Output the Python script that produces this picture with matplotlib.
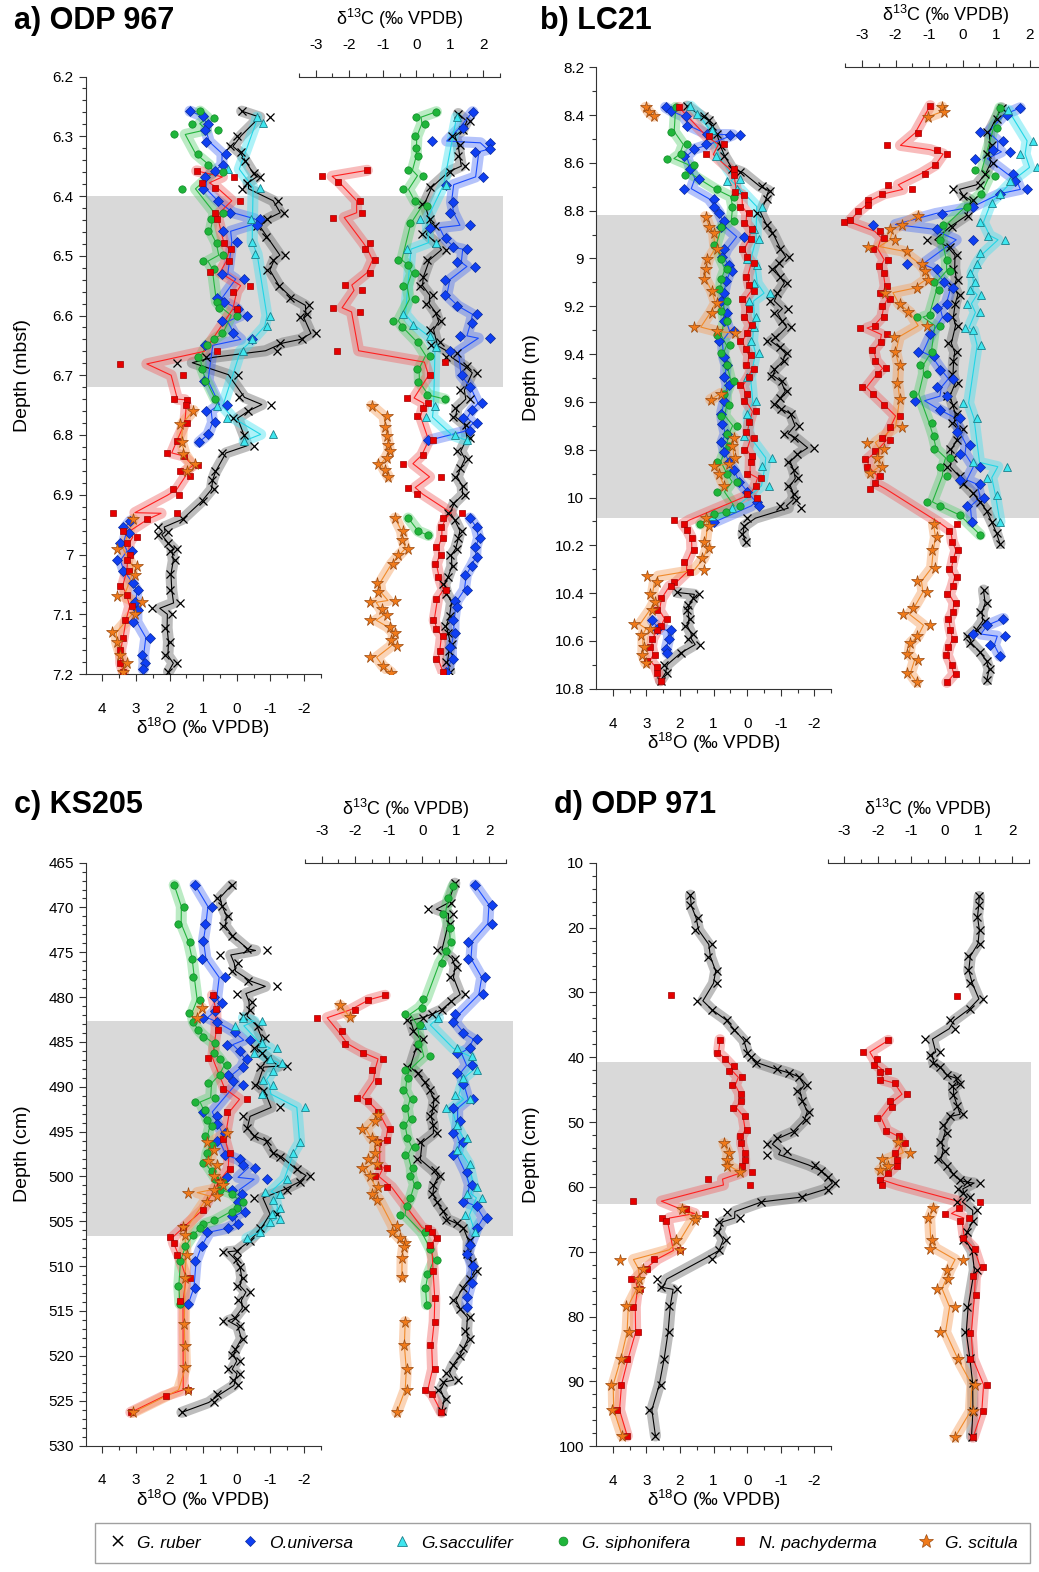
import numpy as np
import matplotlib
matplotlib.use("Agg")
import matplotlib.pyplot as plt
from matplotlib.ticker import FixedLocator, FuncFormatter
from matplotlib.lines import Line2D

plt.rcParams['font.family'] = ['Liberation Sans', 'DejaVu Sans']
plt.rcParams['mathtext.fontset'] = 'custom'
plt.rcParams['mathtext.rm'] = 'Liberation Sans'
plt.rcParams['mathtext.default'] = 'rm'
plt.rcParams['axes.unicode_minus'] = False

NAN = float('nan')
GAP = (NAN, NAN)

# ---------------- DATA (depth, value) ----------------
# Panel a) ODP 967  -- delta18O
A_RUBER_O18 = [(6.258,-0.15),(6.268,-0.99),(6.299,0.00),(6.317,0.20),(6.327,-0.13),(6.342,-0.25),(6.362,-0.50),(6.368,-0.69),(6.378,-0.30),(6.388,-0.15),(6.408,-1.24),(6.428,-1.41),(6.438,-0.89),(6.451,-0.60),(6.469,-0.86),(6.499,-1.44),(6.507,-1.09),(6.524,-0.89),(6.550,-1.27),(6.570,-1.59),(6.583,-2.15),(6.597,-2.08),(6.603,-1.88),(6.630,-2.36),(6.640,-1.93),(6.646,-1.29),(6.659,-1.19),(6.670,0.90),(6.679,1.77),(6.699,-0.05),(6.737,-0.08),(6.749,-1.02),(6.759,-0.33),(6.772,0.10),(6.800,-0.22),(6.818,-0.52),(6.830,0.45),(6.861,0.64),(6.875,0.74),(6.891,0.69),(6.911,0.99),(6.941,1.59),(6.954,2.33),(6.962,2.03),(6.967,2.33),(6.981,2.03),(6.991,1.79),(6.994,1.98),(7.010,1.84),(7.033,1.98),(7.060,1.98),(7.081,1.69),(7.090,2.53),(7.100,1.93),(7.123,2.13),(7.146,1.98),(7.169,2.13),(7.182,1.79),(7.196,2.03)]
A_UNIV_O18 = [(6.258,1.39),(6.266,0.99),(6.279,0.84),(6.289,0.94),(6.309,0.91),(6.329,0.32),(6.348,0.42),(6.358,0.64),(6.368,0.94),(6.388,0.99),(6.408,0.55),(6.428,0.20),(6.438,-0.69),(6.448,-0.60),(6.459,0.42),(6.477,0.00),(6.530,0.45),(6.539,-0.22),(6.570,0.60),(6.577,0.38),(6.589,-0.05),(6.600,-0.30),(6.610,0.45),(6.630,0.12),(6.640,-0.45),(6.650,0.94),(6.709,0.97),(6.749,0.30),(6.759,0.91),(6.779,0.64),(6.799,0.84),(6.812,1.12),GAP,(6.944,3.17),(6.954,3.37),(6.964,3.22),(6.981,3.47),(6.994,3.13),(7.010,3.57),(7.027,3.37),(7.047,3.08),(7.060,2.93),(7.080,3.03),(7.093,2.93),(7.113,3.08),(7.139,2.58),(7.169,2.83),(7.182,2.73),(7.192,2.78)]
A_SACC_O18 = [(6.268,-0.60),(6.278,-0.77),(6.355,0.25),(6.386,-0.69),(6.439,-0.42),(6.477,-0.45),(6.497,-0.55),(6.600,-0.99),(6.618,-0.89),(6.640,-0.45),(6.660,-0.20),(6.752,0.60),(6.771,0.30),(6.799,-1.09),(6.810,-0.22)]
A_SIPH_O18 = [(6.258,1.09),(6.269,0.69),(6.279,1.34),(6.289,0.55),(6.297,1.87),(6.329,1.16),(6.348,0.84),(6.360,0.40),(6.388,1.64),(6.428,0.40),(6.439,0.76),(6.459,0.84),(6.479,0.60),(6.499,0.40),(6.509,1.01),(6.522,0.69),(6.577,0.60),(6.587,0.52),(6.600,0.00),(6.630,0.45),(6.640,0.69),(6.650,0.89),(6.669,1.14),(6.689,1.04),(6.709,0.94),(6.740,0.64)]
A_PACH_O18 = [(6.358,1.19),(6.368,0.08),(6.378,1.04),(6.386,0.64),(6.408,-0.10),(6.428,0.64),(6.438,0.58),(6.479,0.38),(6.489,0.18),(6.509,0.22),(6.528,0.79),(6.550,-0.40),(6.560,0.10),(6.589,0.00),(6.660,0.58),(6.681,3.47),(6.700,1.59),(6.740,1.88),(6.741,1.47),(6.750,1.51),(6.780,1.49),(6.810,1.79),(6.830,2.06),(6.835,1.57),(6.851,1.14),(6.861,1.69),(6.869,1.39),(6.891,1.90),(6.901,1.71),(6.930,3.67),(6.931,1.79),(6.941,2.68),(6.961,3.37),(6.971,2.98),(6.981,3.27),(7.000,3.17),(7.010,3.27),(7.027,3.22),(7.053,3.47),(7.067,3.27),(7.087,3.13),(7.110,3.32),(7.139,3.37),(7.159,3.47),(7.182,3.47),(7.197,3.37)]
A_SCIT_O18 = [(6.759,1.29),(6.781,1.69),(6.812,1.64),(6.832,1.59),(6.849,1.24),(6.861,1.49),GAP,(6.941,3.08),(6.990,3.57),(7.020,2.98),(7.034,3.03),(7.070,3.57),(7.080,2.83),(7.100,3.03),(7.130,3.72),(7.146,3.57),(7.169,3.47),(7.182,3.27),(7.197,3.37)]
# Panel a) -- delta13C
A_RUBER_C13 = [(6.262,1.25),(6.275,1.60),(6.290,1.40),(6.300,1.05),(6.315,1.30),(6.333,1.25),(6.350,1.45),(6.359,1.00),(6.385,0.41),(6.413,0.16),(6.439,0.41),(6.450,0.55),(6.464,0.16),(6.478,0.60),(6.490,0.90),(6.507,0.31),(6.536,0.21),(6.550,0.10),(6.566,0.50),(6.580,0.30),(6.595,0.60),(6.610,0.75),(6.624,0.41),(6.645,0.70),(6.650,0.45),(6.663,1.20),(6.670,0.90),(6.685,1.50),(6.696,1.80),(6.725,1.30),(6.740,1.60),(6.754,1.15),(6.770,1.10),(6.783,1.49),(6.805,1.60),(6.827,1.20),(6.840,1.55),(6.856,1.30),(6.870,1.15),(6.885,1.40),(6.900,1.45),(6.914,1.10),(6.930,0.95),(6.943,1.15),(6.960,1.35),(6.972,1.25),(6.990,1.20),(7.001,1.00),(7.020,1.10),(7.037,0.95),(7.050,0.80),(7.066,0.90),(7.080,1.10),(7.103,1.00),(7.120,0.85),(7.132,0.95),(7.150,1.05),(7.161,0.98),(7.180,0.90),(7.197,1.00)]
A_UNIV_C13 = [(6.259,1.68),(6.286,1.40),(6.308,0.46),(6.311,2.20),(6.322,2.20),(6.326,1.75),(6.368,1.99),(6.381,0.90),(6.410,1.10),(6.428,1.00),(6.449,1.60),(6.453,0.41),(6.471,0.90),(6.486,1.10),(6.489,1.50),(6.511,1.20),(6.518,1.75),(6.540,0.85),(6.566,0.85),(6.584,1.20),(6.598,1.80),(6.613,1.65),(6.634,1.30),(6.638,2.20),(6.660,1.00),(6.700,1.35),(6.720,1.60),(6.747,1.95),(6.758,1.65),(6.772,1.40),(6.780,1.80),(6.794,1.60),(6.809,0.36),GAP,(6.939,1.60),(6.954,1.80),(6.972,1.90),(6.987,1.75),(7.005,1.80),(7.019,1.65),(7.034,1.45),(7.059,1.50),(7.077,1.15),(7.088,1.20),(7.110,1.10),(7.132,1.15),(7.154,1.00),(7.175,1.10),(7.197,0.90)]
A_SACC_C13 = [(6.268,1.20),(6.381,0.90),(6.439,0.10),(6.478,0.60),(6.489,-0.29),(6.598,-0.39),(6.616,-0.09),(6.634,0.40),(6.653,0.60),(6.751,0.55),(6.770,0.30),(6.800,1.15),(6.809,1.50)]
A_SIPH_C13 = [(6.259,0.60),(6.268,0.00),(6.279,0.26),(6.300,-0.04),(6.319,0.00),(6.333,0.06),(6.357,-0.24),(6.366,0.21),(6.389,-0.39),(6.409,-0.04),(6.417,0.31),(6.446,-0.19),(6.507,-0.54),(6.515,-0.24),(6.529,-0.04),(6.551,-0.39),(6.573,-0.04),(6.609,-0.68),(6.620,-0.44),(6.645,0.06),(6.667,0.40),(6.689,0.01),(6.711,0.06),(6.733,0.31),(6.740,0.85),GAP,(6.939,-0.24),(6.961,0.06),(6.968,0.36)]
A_PACH_C13 = [(6.357,-1.46),(6.367,-2.82),(6.377,-2.32),(6.408,-1.68),(6.428,-1.63),(6.436,-2.47),(6.478,-1.38),(6.489,-1.53),(6.507,-1.23),(6.529,-1.38),(6.549,-2.13),(6.558,-1.63),(6.587,-2.49),(6.594,-1.68),(6.659,-2.37),(6.678,0.85),(6.700,0.41),(6.738,-0.29),(6.747,0.36),(6.754,0.21),(6.769,0.01),(6.809,0.50),(6.834,0.21),(6.848,-0.39),(6.870,0.75),(6.888,-0.24),(6.899,0.01),(6.930,1.35),(6.939,0.80),(6.954,0.75),(6.972,0.80),(6.987,0.60),(7.001,0.75),(7.016,0.55),(7.037,0.65),(7.059,0.90),(7.074,0.60),(7.110,0.50),(7.125,0.60),(7.136,0.80),(7.161,0.70),(7.175,0.60),(7.197,0.80)]
A_SCIT_C13 = [(6.751,-1.33),(6.769,-0.88),(6.787,-0.93),(6.801,-0.88),(6.816,-0.83),(6.827,-0.78),(6.838,-0.88),(6.848,-1.13),(6.859,-0.93),(6.870,-0.83),GAP,(6.939,-0.63),(6.961,-0.39),(6.976,-0.44),(6.990,-0.24),(7.001,-0.54),(7.016,-0.68),(7.048,-1.18),(7.063,-1.13),(7.077,-0.64),(7.080,-1.38),(7.091,-1.03),(7.102,-0.88),(7.110,-1.38),(7.121,-0.78),(7.132,-0.64),(7.143,-0.74),(7.153,-0.59),(7.172,-1.38),(7.186,-0.98),(7.198,-0.74)]

# Panel b) LC21 -- delta18O
B_RUBER_O18 = [(8.363,1.79),(8.405,1.29),(8.422,1.14),(8.447,1.04),(8.481,0.89),(8.531,0.79),(8.573,0.69),(8.624,0.45),(8.640,0.20),(8.699,-0.45),(8.716,-0.69),(8.750,-0.60),(8.808,-0.30),(8.859,-0.60),(8.892,-0.74),(8.960,-0.99),(8.993,-1.24),(9.018,-0.94),(9.044,-0.74),(9.077,-0.99),(9.103,-1.19),(9.145,-0.89),(9.178,-0.69),(9.210,-1.20),(9.230,-0.80),(9.262,-1.04),(9.287,-1.29),(9.329,-0.84),(9.346,-0.60),(9.371,-0.99),(9.397,-1.19),(9.430,-1.10),(9.464,-0.79),(9.490,-0.70),(9.514,-1.04),(9.556,-1.19),(9.582,-0.99),(9.607,-0.79),(9.630,-1.00),(9.649,-1.29),(9.699,-1.54),(9.733,-1.09),(9.750,-1.39),(9.792,-1.98),(9.817,-1.49),(9.850,-1.20),(9.884,-1.39),(9.920,-1.50),(9.950,-1.20),(9.985,-1.39),(10.010,-1.45),(10.035,-0.99),(10.044,-1.59),(10.086,0.00),(10.119,0.10),(10.153,0.15),(10.187,0.05),GAP,(10.397,2.08),(10.405,1.44),(10.420,1.60),(10.450,1.75),(10.472,1.79),(10.506,1.69),(10.539,1.84),(10.570,1.60),(10.590,1.75),(10.615,1.39),(10.649,1.98),(10.699,2.48),(10.733,2.38),(10.766,2.58)]
B_UNIV_O18 = [(8.368,2.43),(8.385,2.28),(8.405,1.83),(8.447,1.79),(8.481,1.19),(8.482,0.50),(8.483,0.20),(8.523,1.24),(8.543,1.59),(8.573,1.89),(8.624,1.69),(8.666,1.44),(8.708,1.89),(8.750,0.99),(8.783,0.99),(8.808,0.84),(8.842,0.69),(8.867,0.79),(8.909,0.10),(8.960,0.69),(8.993,0.74),(9.027,0.55),(9.052,0.45),(9.094,0.64),(9.145,0.69),(9.178,0.79),(9.229,0.60),(9.262,0.69),(9.304,0.40),(9.346,0.84),(9.413,0.69),(9.447,0.60),(9.497,0.69),(9.531,0.55),(9.598,0.69),(9.649,0.79),(9.691,0.74),(9.733,0.60),(9.766,0.79),(9.808,0.69),(9.850,0.55),(9.884,0.40),(9.934,0.25),(9.976,0.00),(10.018,-0.30),(10.035,-0.35),(10.103,0.99),GAP,(10.514,2.83),(10.548,2.68),(10.556,2.28),(10.590,2.33),(10.632,2.43),(10.649,2.38)]
B_SACC_O18 = [(8.363,1.69),(8.397,1.49),(8.464,1.04),(8.573,0.94),(8.666,0.20),(8.674,0.60),(8.708,0.30),(8.783,-0.45),(8.876,-0.20),(8.918,-0.35),(9.002,0.00),(9.027,-0.30),(9.103,-0.20),(9.145,-0.69),(9.178,-0.05),(9.245,-0.25),(9.287,-0.20),(9.346,-0.10),(9.397,-0.35),(9.497,0.00),(9.598,-0.25),(9.649,0.00),(9.741,0.10),(9.834,-0.74),(9.867,-0.45),(9.951,-0.64),(10.044,0.45),(10.077,1.04)]
B_SIPH_O18 = [(8.368,2.13),(8.469,2.28),(8.523,1.79),(8.565,1.98),(8.582,2.38),(8.607,1.59),(8.649,1.84),(8.708,0.89),(8.741,0.40),(8.783,0.45),(8.842,0.40),(8.867,0.79),(8.943,0.99),(9.002,0.79),(9.044,0.60),(9.086,0.79),(9.128,0.84),(9.178,0.60),(9.220,0.79),(9.262,0.60),(9.321,0.89),(9.363,0.50),(9.397,0.79),(9.447,0.60),(9.514,0.40),(9.565,0.69),(9.615,0.55),(9.657,0.79),(9.699,0.30),(9.733,0.60),(9.783,0.55),(9.850,0.89),(9.901,0.60),(9.934,0.30),(9.976,0.89),(10.035,0.20),(10.061,0.64),(10.069,0.99),(10.111,1.39)]
B_PACH_O18 = [(8.368,2.03),(8.489,1.14),(8.523,0.69),(8.565,1.24),(8.624,0.40),(8.649,0.40),(8.724,0.35),(8.733,0.10),(8.783,0.20),(8.808,-0.05),(8.850,0.10),(8.876,-0.15),(8.918,-0.10),(8.960,0.15),(8.993,0.00),(9.018,-0.20),(9.077,0.05),(9.111,-0.05),(9.136,-0.20),(9.170,0.15),(9.212,-0.05),(9.245,0.10),(9.279,-0.15),(9.313,0.00),(9.346,0.20),(9.380,0.05),(9.405,-0.10),(9.447,0.05),(9.464,-0.20),(9.497,-0.05),(9.531,0.20),(9.565,0.00),(9.598,0.10),(9.640,-0.25),(9.682,-0.05),(9.724,0.05),(9.750,-0.20),(9.800,0.10),(9.825,-0.15),(9.850,-0.10),(9.901,0.00),(9.918,-0.40),(9.951,-0.25),(9.985,0.00),(10.002,-0.30),(10.094,2.18),(10.111,1.88),(10.136,1.79),(10.170,1.64),(10.220,1.59),(10.271,1.88),(10.313,1.69),(10.355,2.18),(10.371,2.28),(10.422,2.58),(10.472,2.68),(10.506,2.38),(10.539,2.58),(10.556,2.68),(10.590,2.83),(10.624,2.88),(10.657,2.73),(10.682,2.98),(10.708,2.68),(10.733,2.68),(10.766,2.58)]
B_SCIT_O18 = [(8.368,3.02),(8.388,2.93),(8.405,2.78),GAP,(8.825,1.24),(8.867,1.14),(8.892,0.99),(8.960,0.89),(9.002,1.19),(9.044,1.24),(9.086,1.29),(9.136,1.04),(9.187,0.89),(9.229,1.04),(9.287,1.59),(9.304,0.89),(9.313,0.35),GAP,(9.565,0.79),(9.590,1.09),GAP,(9.750,0.40),(9.783,0.45),(9.834,0.35),(9.859,0.55),(9.867,0.99),(9.901,0.84),(9.951,0.69),GAP,(10.086,1.24),(10.119,1.14),(10.187,1.29),(10.212,1.14),(10.254,1.34),(10.304,1.29),(10.329,2.98),(10.355,2.68),(10.405,2.88),(10.439,2.73),(10.472,2.83),(10.531,3.37),(10.548,2.88),(10.573,3.17),(10.624,3.08),(10.657,3.13),(10.691,3.02)]
# Panel b) -- delta13C
B_RUBER_C13 = [(8.370,1.16),(8.416,1.01),(8.471,0.72),(8.527,0.86),(8.563,0.72),(8.600,0.91),(8.646,0.66),(8.692,0.52),(8.711,-0.28),(8.738,0.02),(8.757,0.32),(8.821,0.17),(8.867,-0.33),(8.922,-1.07),(8.950,-0.38),(8.987,-0.18),(9.042,-0.28),(9.088,-0.13),(9.116,-0.33),(9.152,-0.08),(9.189,-0.23),(9.245,-0.33),(9.281,-0.13),(9.355,-0.43),(9.392,-0.18),(9.429,-0.28),(9.484,-0.33),(9.521,-0.13),(9.576,-0.47),(9.613,-0.28),(9.650,-0.18),(9.687,-0.33),(9.714,0.02),(9.761,-0.18),(9.797,-0.38),(9.834,-0.28),(9.871,-0.47),(9.908,-0.08),(9.945,0.02),(9.982,0.32),(10.018,0.52),(10.055,0.72),(10.101,0.86),(10.147,1.01),(10.193,1.11),GAP,(10.387,0.62),(10.442,0.72),(10.479,0.52),(10.516,0.66),(10.552,0.42),(10.580,0.12),(10.608,0.22),(10.645,0.52),(10.682,0.72),(10.718,0.82),(10.764,0.72)]
B_UNIV_C13 = [(8.370,1.71),(8.398,1.31),(8.471,0.52),(8.508,1.21),(8.545,0.91),(8.554,1.41),(8.582,0.37),(8.646,1.51),(8.674,1.56),(8.711,1.91),(8.729,1.11),(8.784,0.32),(8.812,-0.62),(8.858,-2.66),(8.877,-0.77),(8.922,0.32),(9.023,-1.67),(9.042,-0.77),(9.097,-0.57),(9.125,-0.28),(9.190,-0.47),(9.208,-0.77),(9.245,-0.47),(9.318,-0.97),(9.392,-1.32),(9.410,-0.87),(9.466,-0.67),(9.503,-0.28),(9.539,-0.77),(9.576,-0.47),(9.595,-1.42),(9.632,-0.67),(9.669,-0.08),(9.724,-0.18),(9.779,0.22),(9.816,-0.08),(9.871,0.52),(9.926,-0.08),(9.945,0.52),(10.000,0.62),(10.037,0.12),(10.101,0.27),GAP,(10.506,1.21),(10.534,0.72),(10.571,0.32),(10.580,1.26),(10.617,0.82),(10.663,1.11)]
B_SACC_C13 = [(8.380,1.36),(8.508,2.11),(8.563,1.71),(8.619,2.21),(8.674,1.41),(8.729,1.11),(8.766,0.86),(8.849,0.52),(8.904,0.76),(8.922,1.26),(8.977,0.52),(9.023,0.42),(9.060,0.22),(9.097,0.37),(9.134,0.22),(9.152,0.56),(9.189,0.12),(9.226,0.52),(9.290,0.07),(9.300,0.32),(9.364,0.56),(9.604,0.02),(9.669,0.42),(9.853,0.32),(9.871,1.31),(9.917,0.72),(9.991,1.01),(10.101,1.11)]
B_SIPH_C13 = [(8.370,1.11),(8.453,1.01),(8.628,0.37),(8.656,0.96),(8.729,0.56),(8.784,0.12),(8.858,-0.58),(8.922,-0.67),(9.005,-0.47),(9.051,-0.38),(9.097,-0.87),(9.134,-0.72),(9.236,-0.97),(9.245,-1.37),(9.281,-0.67),(9.392,-0.92),(9.447,-1.27),(9.484,-1.07),(9.567,-1.47),(9.687,-0.92),(9.742,-0.87),(9.797,-0.87),(9.834,-0.38),(9.871,-0.67),(9.908,-0.47),(10.018,-1.07),(10.037,-0.67),(10.074,-0.08),(10.156,0.52)]
B_PACH_C13 = [(8.361,-0.97),(8.475,-1.32),(8.527,-2.26),(8.545,-0.77),(8.563,-0.48),(8.609,-0.82),(8.646,-1.12),(8.692,-2.22),(8.711,-1.52),(8.729,-2.42),(8.757,-2.81),(8.775,-2.81),(8.803,-3.11),(8.840,-3.36),(8.849,-3.55),(8.886,-2.46),(8.913,-2.36),(8.959,-2.66),(9.005,-2.22),(9.030,-2.50),(9.060,-2.36),(9.116,-2.26),(9.143,-2.46),(9.171,-2.16),(9.200,-2.40),(9.245,-2.36),(9.281,-2.61),(9.291,-3.06),(9.318,-2.26),(9.350,-2.45),(9.383,-2.71),(9.429,-2.61),(9.460,-2.30),(9.484,-2.51),(9.539,-3.01),(9.567,-2.66),(9.613,-2.36),(9.659,-1.87),(9.705,-2.16),(9.750,-2.40),(9.761,-2.16),(9.807,-2.61),(9.840,-2.90),(9.871,-2.86),(9.908,-2.46),(9.940,-2.60),(9.963,-2.76),(10.110,-0.18),(10.140,-0.40),(10.184,-0.33),(10.220,-0.15),(10.258,-0.28),(10.300,-0.40),(10.331,-0.18),(10.370,-0.30),(10.405,-0.47),(10.440,-0.20),(10.479,-0.28),(10.510,-0.45),(10.552,-0.38),(10.590,-0.25),(10.626,-0.43),(10.660,-0.50),(10.699,-0.33),(10.740,-0.20),(10.773,-0.47)]
B_SCIT_C13 = [(8.366,-0.62),(8.388,-0.57),(8.407,-1.02),GAP,(8.821,-1.32),(8.858,-1.81),(8.877,-2.16),(8.922,-2.01),(8.950,-2.81),(8.969,-1.67),(9.023,-1.22),(9.051,-1.12),(9.088,-1.02),(9.125,-1.37),(9.143,-2.31),(9.189,-1.87),(9.226,-1.62),(9.281,-1.07),(9.327,-2.06),(9.392,-2.01),(9.447,-1.87),(9.521,-1.97),(9.586,-1.87),(9.705,-1.82),(9.770,-2.86),(9.797,-2.36),(9.834,-2.56),(9.871,-2.41),(9.899,-2.76),GAP,(10.110,-0.87),(10.166,-0.77),(10.221,-0.92),(10.295,-0.82),(10.350,-1.37),(10.396,-1.07),(10.461,-1.47),(10.488,-1.77),(10.534,-0.97),(10.580,-1.37),(10.608,-1.57),(10.654,-1.67),(10.681,-1.32),(10.736,-1.67),(10.773,-1.37)]

# Panel c) KS205 -- delta18O
C_RUBER_O18 = [(467.5,0.15),(468.9,0.59),(469.8,0.45),(470.9,0.25),(472.1,0.40),(473.2,0.15),(474.6,-0.30),(474.8,-0.89),(475.3,0.50),(476.2,-0.05),(477.1,0.15),(478.2,-0.35),(478.8,-1.19),(479.6,0.00),(480.5,-0.45),(481.4,-0.40),(482.1,-0.20),(483.2,-0.64),(484.6,-0.84),(485.7,-0.50),(486.2,-0.74),(486.9,-0.89),(487.7,-1.49),(487.8,-0.69),(489.8,-0.55),(490.5,-0.79),(492.3,-1.29),(493.3,-0.20),(494.6,-0.30),(495.5,-0.50),(496.0,-0.89),(497.4,-1.09),(497.8,-1.29),(499.2,-1.79),(499.9,-2.18),(500.6,-1.88),(501.5,-1.49),(502.4,-0.50),(504.2,-1.19),(505.8,-0.69),(507.2,-0.40),(508.3,0.00),(508.4,0.40),(509.2,0.00),(510.1,-0.10),(511.3,-0.20),(512.2,0.00),(512.9,-0.40),(513.8,-0.05),(514.7,-0.25),(515.8,0.05),(516.1,0.40),(516.7,-0.10),(518.1,-0.20),(519.2,0.05),(519.9,0.15),(520.6,-0.10),(521.5,0.25),(522.0,-0.10),(522.7,0.10),(523.3,-0.05),(524.3,0.59),(525.2,0.69),(526.3,1.63)]
C_UNIV_O18 = [(467.5,1.24),(469.9,0.74),(471.8,0.94),(473.7,0.99),(475.7,1.04),(477.8,0.35),(480.0,0.69),(480.7,0.45),(481.6,0.64),(482.3,0.99),(482.8,0.60),(483.9,0.05),(484.8,-0.40),(485.3,0.30),(486.0,-0.10),(486.9,-0.30),(487.8,-0.20),(488.7,0.25),(489.4,0.10),(489.8,-0.20),(492.8,0.99),(493.3,0.60),(494.2,0.60),(495.1,0.35),(496.0,0.60),(497.6,0.35),(498.1,-0.10),(498.7,-0.20),(499.0,-0.55),(500.1,0.30),(500.3,-0.89),(501.5,0.15),(501.9,-0.15),(502.8,-0.05),(504.0,-0.25),(504.4,0.15),(505.3,-0.05),(505.8,0.25),(506.2,0.89),(507.8,1.04),(509.4,1.24),(512.4,1.24),(514.2,1.44)]
C_SACC_O18 = [(482.3,-0.20),(482.7,-0.74),(483.2,0.05),(485.1,-0.74),(485.7,-1.19),(486.2,-0.50),(486.9,-0.99),(487.3,-1.34),(488.2,-1.09),(489.2,-0.79),(489.8,-1.09),(490.8,-0.74),(492.3,-2.03),(496.2,-1.88),(497.4,-1.69),(500.3,-1.49),(501.7,-0.84),(501.9,-1.29),(502.6,-1.09),(503.5,-1.29),(504.2,-1.04),(504.7,-1.29),(505.1,-0.99),(506.2,-0.69),(506.9,-0.30)]
C_SIPH_O18 = [(467.5,1.86),(469.9,1.57),(471.8,1.74),(473.8,1.39),(475.7,1.32),(477.8,1.29),(480.3,1.09),(481.8,1.41),(482.8,1.29),(483.7,1.14),(484.4,0.99),(485.1,0.64),(486.2,0.69),(486.9,0.50),(487.6,0.30),(488.7,0.50),(489.6,0.84),(491.2,0.64),(491.7,1.24),(492.6,0.94),(493.7,0.89),(494.4,0.74),(495.5,0.94),(496.5,0.74),(497.4,0.89),(498.5,0.99),(499.4,0.74),(500.3,0.64),(500.6,0.40),(501.5,0.50),(501.9,0.15),(502.8,-0.20),(503.5,0.00),(504.0,0.15),(504.9,0.69),(505.3,0.99),(505.8,1.09),(506.5,1.29),(507.8,1.54),(509.4,1.69),(512.2,1.74),(514.2,1.69)]
C_PACH_O18 = [(479.8,0.72),(481.3,0.62),(483.7,0.55),(486.8,0.84),(490.2,0.40),(491.4,-0.30),(492.8,0.30),(495.8,0.40),(497.4,0.20),(499.2,0.20),(500.6,0.50),(503.7,0.99),(505.6,1.59),(506.8,2.00),(507.4,1.88),(508.8,1.77),(511.3,1.39),(513.9,1.69),(523.8,1.44),(524.5,2.10),(526.3,3.15)]
C_SCIT_O18 = [(481.2,1.04),(482.3,1.19),GAP,(495.1,0.30),(496.2,0.89),(497.1,0.69),(498.3,0.84),(498.7,0.60),(499.9,0.69),(500.6,0.50),(501.0,0.40),(501.5,0.69),(501.8,1.44),(502.2,0.60),(502.8,0.89),(505.6,1.59),(506.5,1.54),(508.8,1.49),(511.3,1.54),(516.4,1.57),(518.9,1.54),(521.3,1.54),(523.8,1.44),(526.3,3.08)]
# Panel c) -- delta13C
C_RUBER_C13 = [(467.3,0.97),(469.5,0.87),(470.2,0.18),(470.7,0.92),(471.9,0.82),(474.7,0.43),(475.7,0.97),(476.6,1.02),(477.8,0.82),(479.7,1.27),(480.4,0.87),(481.4,0.58),(481.9,0.28),(482.3,0.03),(482.6,-0.47),(483.8,-0.27),(484.7,0.03),(485.7,-0.17),(487.8,-0.47),(488.5,-0.12),(489.5,0.08),(490.4,0.23),(491.4,0.38),(492.4,0.33),(493.3,0.23),(494.3,0.33),(495.2,0.43),(496.2,-0.07),(498.1,-0.17),(499.3,0.38),(500.0,0.53),(500.9,0.33),(501.9,0.28),(502.9,0.43),(503.8,0.63),(504.8,0.72),(505.2,1.02),(505.7,1.22),(507.1,1.42),(508.6,1.32),(509.5,1.47),(510.5,1.62),(511.4,1.42),(512.4,1.22),(513.8,0.92),(514.8,1.12),(515.7,1.42),(517.2,1.27),(518.1,1.42),(519.1,1.22),(520.0,1.12),(521.0,0.92),(521.9,0.72),(522.7,1.07),(522.9,0.62),(523.8,0.48),(524.8,0.72),(526.2,0.58)]
C_UNIV_C13 = [(467.5,1.57),(469.7,2.07),(471.8,2.07),(473.8,1.37),(475.7,1.37),(477.8,1.86),(479.7,1.82),(481.9,0.97),(482.8,0.92),(484.0,1.22),(484.7,1.62),(485.7,1.42),(486.2,1.02),(487.6,1.47),(488.5,1.02),(489.7,1.22),(491.4,1.52),(492.4,0.92),(493.8,1.12),(495.2,0.92),(496.2,1.22),(497.6,0.92),(499.5,1.32),(500.9,1.47),(502.9,1.22),(503.3,1.62),(504.6,1.92),(505.7,1.62),(507.6,1.42),(508.6,1.32),(510.0,1.52),(511.9,1.47),(513.4,1.32),(514.6,1.32)]
C_SACC_C13 = [(482.3,0.48),(483.1,-0.02),(485.7,1.02),(486.6,1.47),(488.1,1.62),(489.0,1.22),(490.9,0.97),(491.4,1.42),(492.4,0.72),(494.3,1.02),(495.7,1.32),(497.1,1.02),(498.6,1.42),(501.2,1.62),(501.9,1.32),(502.4,1.77),(504.3,1.27),(506.2,1.57)]
C_SIPH_C13 = [(467.6,0.92),(469.0,0.77),(470.7,0.63),(472.3,0.82),(473.8,0.87),(474.9,0.72),(476.2,0.58),(480.2,0.03),(481.2,-0.02),(481.9,-0.52),(483.1,-0.07),(485.2,-0.12),(486.6,0.23),(488.1,-0.52),(489.0,-0.42),(490.4,-0.57),(491.4,-0.27),(492.4,-0.52),(493.6,-0.32),(494.3,-0.57),(495.7,-0.47),(496.7,-0.22),(497.6,-0.52),(499.0,-0.27),(500.0,-0.37),(500.9,-0.17),(502.4,-0.37),(503.3,-0.47),(504.3,-0.67),(506.2,0.08),(508.1,0.23),(509.3,0.43),(510.9,0.13),(512.4,0.08),(514.3,0.13)]
C_PACH_C13 = [(479.8,-1.11),(480.3,-1.61),(481.4,-2.01),(482.3,-3.15),(483.8,-2.40),(485.2,-2.30),(486.2,-1.77),(486.9,-1.16),(488.1,-1.50),(489.3,-1.31),(491.2,-1.96),(491.6,-1.61),(492.8,-1.31),(494.7,-0.96),(495.9,-1.06),(496.2,-1.31),(498.8,-1.31),(499.0,-1.06),(500.0,-1.41),(501.2,-1.06),(505.7,0.18),(506.2,0.28),(506.9,0.43),(507.6,0.23),(510.5,0.33),(513.6,0.38),(516.2,0.38),(518.8,0.23),(521.5,0.38),(523.8,0.08),(524.3,0.28),(526.3,0.57)]
C_SCIT_C13 = [(480.9,-2.45),(482.2,-2.16),GAP,(493.1,-1.31),(493.8,-1.41),(494.7,-1.80),(495.7,-1.50),(496.2,-1.36),(497.4,-1.41),(498.1,-1.61),(498.6,-1.36),(499.0,-1.80),(500.0,-1.56),(501.2,-1.31),(501.9,-1.51),(502.6,-1.36),(505.5,-0.76),(506.2,-0.91),(506.9,-0.66),(507.4,-0.51),(507.9,-0.56),(509.1,-0.61),(511.2,-0.61),GAP,(516.2,-0.51),(518.8,-0.56),(521.5,-0.46),(523.8,-0.46),(526.3,-0.76)]

# Panel d) ODP 971 -- delta18O
D_RUBER_O18 = [(15.0,1.69),(16.6,1.71),(18.5,1.47),(20.4,1.54),(22.6,1.04),(24.5,1.16),(26.7,0.89),(28.6,0.91),(31.3,1.49),(32.7,1.04),(34.2,0.60),(35.8,0.40),(37.4,0.05),(39.3,0.00),(39.9,-0.10),(40.9,-0.25),(41.8,-0.89),(42.4,-1.24),(43.0,-1.54),(44.3,-1.79),(45.2,-1.49),(46.8,-1.64),(48.4,-1.84),(49.7,-1.74),(51.5,-1.39),(52.5,-0.89),(53.4,-0.60),(54.4,-1.19),(55.0,-0.60),(56.6,-2.03),(57.5,-2.20),(58.5,-2.40),(59.4,-2.60),(60.4,-2.40),(61.6,-1.64),(62.3,-0.40),(63.8,0.60),(64.8,0.20),(65.4,0.84),(67.0,0.89),(68.2,0.64),(69.8,0.84),(71.1,1.04),(74.2,2.68),(75.5,2.58),(75.8,2.08),(78.3,2.33),(82.4,2.33),(86.5,2.48),(90.6,2.58),(94.4,2.93),(98.4,2.73)]
D_PACH_O18 = [(30.4,2.28),GAP,(37.3,0.81),(39.3,0.91),(40.2,0.67),(41.3,0.40),(42.1,0.53),(43.1,0.15),(44.3,0.45),(45.6,0.18),(46.8,0.18),(47.8,0.42),(49.0,0.08),(51.2,0.02),(52.2,0.20),(53.3,0.18),(54.7,0.08),(55.8,0.06),(56.8,0.14),(57.7,-0.15),(58.8,1.16),(59.7,-0.08),(62.2,3.40),(63.4,1.81),(64.1,1.26),(64.8,2.55),(65.3,2.42),(69.8,2.00),(71.1,2.76),(72.6,2.98),(74.2,3.45),(75.8,3.19),(78.5,3.39),(82.4,3.24),(86.5,3.57),(90.5,3.75),(94.4,3.87),(98.4,3.57)]
D_SCIT_O18 = [(53.3,0.69),(54.7,0.53),(55.8,0.60),(56.8,0.60),(57.7,0.20),GAP,(63.4,1.93),(64.6,1.53),(65.1,1.54),(68.2,2.11),(69.7,2.01),(71.2,3.80),(72.6,3.10),(74.2,3.22),(75.8,3.23),(78.3,3.62),(82.4,3.52),(86.5,3.75),(90.5,4.04),(94.4,4.02),(98.4,3.72)]
# Panel d) -- delta13C
D_RUBER_C13 = [(15.2,1.02),(16.5,1.02),(18.3,0.94),(20.4,1.04),(22.5,1.04),(24.4,0.70),(26.6,0.70),(28.5,0.75),(31.0,1.14),(32.6,0.75),(34.3,0.15),(35.6,0.30),(37.2,-0.60),(39.2,-0.15),(39.6,-0.45),(40.9,-0.35),(41.5,-0.15),(42.8,0.05),(43.2,0.35),(44.2,0.45),(44.4,0.20),(45.8,0.25),(47.5,0.35),(48.8,0.55),(49.1,0.15),(50.4,-0.05),(51.7,0.05),(53.1,-0.15),(54.4,0.00),(55.7,-0.20),(56.7,0.05),(58.0,0.25),(59.0,0.45),(59.3,0.65),(59.4,1.04),(60.3,0.40),(61.0,0.55),(61.6,0.75),(62.3,0.35),(63.6,0.94),(65.3,0.84),(66.9,0.65),(68.2,0.55),(69.9,0.84),(72.8,0.94),(78.5,0.65),(82.4,0.60),(86.4,0.75),(90.3,0.84),(94.6,0.84),(98.5,0.79)]
D_PACH_C13 = [(30.5,0.35),GAP,(37.4,-1.69),(39.2,-2.43),(40.3,-2.03),(41.2,-2.13),(42.2,-1.69),(42.3,-1.93),(43.5,-1.93),(44.0,-1.49),(45.7,-1.14),(46.8,-1.64),(47.7,-1.59),(49.3,-2.03),(51.3,-1.75),(52.2,-1.36),(53.2,-1.19),(54.7,-1.49),(55.8,-1.44),(56.8,-1.44),(57.8,-1.69),(58.9,-1.93),(59.7,-1.89),(62.3,1.04),(63.3,0.43),(64.1,0.00),(64.8,0.73),(65.3,0.45),(67.9,0.53),(69.5,0.89),(72.3,1.14),(73.8,0.84),(76.7,0.92),(82.6,0.76),(86.5,0.74),(90.5,1.26),(94.6,1.12),(98.6,0.84)]
D_SCIT_C13 = [(53.1,-1.39),(54.7,-1.04),(55.7,-1.89),(56.7,-1.69),(57.4,-1.94),GAP,(63.3,-0.35),(64.8,-0.50),(68.2,-0.40),(69.5,-0.45),(71.2,0.55),(72.8,0.05),(74.2,0.10),(75.7,-0.23),(78.5,0.30),(82.4,-0.15),(86.6,0.40),(90.5,0.89),(94.6,0.84),(98.6,0.30)]

SPECIES = ['ruber', 'universa', 'sacculifer', 'siphonifera', 'pachyderma', 'scitula']
LEGEND_LABELS = ['G. ruber', 'O.universa', 'G.sacculifer', 'G. siphonifera', 'N. pachyderma', 'G. scitula']

DATA = {
    'a': ({'ruber': A_RUBER_O18, 'universa': A_UNIV_O18, 'sacculifer': A_SACC_O18,
           'siphonifera': A_SIPH_O18, 'pachyderma': A_PACH_O18, 'scitula': A_SCIT_O18},
          {'ruber': A_RUBER_C13, 'universa': A_UNIV_C13, 'sacculifer': A_SACC_C13,
           'siphonifera': A_SIPH_C13, 'pachyderma': A_PACH_C13, 'scitula': A_SCIT_C13}),
    'b': ({'ruber': B_RUBER_O18, 'universa': B_UNIV_O18, 'sacculifer': B_SACC_O18,
           'siphonifera': B_SIPH_O18, 'pachyderma': B_PACH_O18, 'scitula': B_SCIT_O18},
          {'ruber': B_RUBER_C13, 'universa': B_UNIV_C13, 'sacculifer': B_SACC_C13,
           'siphonifera': B_SIPH_C13, 'pachyderma': B_PACH_C13, 'scitula': B_SCIT_C13}),
    'c': ({'ruber': C_RUBER_O18, 'universa': C_UNIV_O18, 'sacculifer': C_SACC_O18,
           'siphonifera': C_SIPH_O18, 'pachyderma': C_PACH_O18, 'scitula': C_SCIT_O18},
          {'ruber': C_RUBER_C13, 'universa': C_UNIV_C13, 'sacculifer': C_SACC_C13,
           'siphonifera': C_SIPH_C13, 'pachyderma': C_PACH_C13, 'scitula': C_SCIT_C13}),
    'd': ({'ruber': D_RUBER_O18, 'pachyderma': D_PACH_O18, 'scitula': D_SCIT_O18},
          {'ruber': D_RUBER_C13, 'pachyderma': D_PACH_C13, 'scitula': D_SCIT_C13}),
}

O18_TICKS = [4, 3, 2, 1, 0, -1, -2]
C13_TICKS = [-3, -2, -1, 0, 1, 2]

# ---------------- STYLE / LAYOUT ----------------
W, H = 1039, 1572
SC18 = 33.6    # px per permil (d18O)
SC13 = 33.55   # px per permil (d13C)

STYLE = {
    'ruber':       dict(marker='x', ms=5.5, mfc='black', mec='black', mew=0.9, line='black', band='#6e6e6e', ba=0.45),
    'universa':    dict(marker='D', ms=4.6, mfc='#0f3ff2', mec='#0a2a9a', mew=0.5, line='#1a4cff', band='#3d63f2', ba=0.38),
    'sacculifer':  dict(marker='^', ms=6.0, mfc='#3fe6ef', mec='#1d7f8a', mew=0.6, line='#22d6e6', band='#40e0f0', ba=0.42),
    'siphonifera': dict(marker='o', ms=5.3, mfc='#1fb53a', mec='#138a2a', mew=0.5, line='#22b43c', band='#4ccc66', ba=0.38),
    'pachyderma':  dict(marker='s', ms=5.0, mfc='#e60000', mec='#a00000', mew=0.5, line='#ff2020', band='#f06060', ba=0.42),
    'scitula':     dict(marker='*', ms=8.5, mfc='#f07a1a', mec='#9a4a10', mew=0.5, line='#f08a2a', band='#f5a060', ba=0.45),
}

GEOM = {
    'a': dict(title='a) ODP 967', ylabel='Depth (mbsf)', px=(85.5, 502.7, 76.5, 674.0), ylim=(6.2, 7.2),
              ymaj=(6.2, 7.2, 0.1), ymin=(6.2, 7.2, 0.02), gray=(6.4, 6.72), c0=416.3,
              tpos=(14, 21), ylx=23, c13y=18.5),
    'b': dict(title='b) LC21', ylabel='Depth (m)', px=(596.0, 1052.0, 67.2, 688.8), ylim=(8.2, 10.8),
              ymaj=(8.2, 10.8, 0.2), ymin=(8.2, 10.8, 0.1), gray=(8.82, 10.085), c0=962.7,
              tpos=(540, 21), ylx=531, c13y=15.0),
    'c': dict(title='c) KS205', ylabel='Depth (cm)', px=(85.5, 512.7, 862.6, 1445.5), ylim=(465, 530),
              ymaj=(465, 530, 5), ymin=(465, 530, 1), gray=(482.7, 506.6), c0=422.3,
              tpos=(14, 805), ylx=23, c13y=809.0),
    'd': dict(title='d) ODP 971', ylabel='Depth (cm)', px=(596.0, 1031.0, 862.7, 1446.3), ylim=(10, 100),
              ymaj=(10, 100, 10), ymin=(10, 100, 2), gray=(40.7, 62.6), c0=945.0,
              tpos=(554, 805), ylx=531, c13y=809.0),
}

AXC = '#333333'


def segments(pairs):
    segs, cur = [], []
    for d, v in pairs:
        if np.isnan(d):
            if cur:
                segs.append(cur)
            cur = []
        else:
            cur.append((d, v))
    if cur:
        segs.append(cur)
    return segs


def smooth(v):
    v = np.asarray(v, float)
    s = v.copy()
    if len(v) >= 3:
        s[1:-1] = (v[:-2] + 4 * v[1:-1] + v[2:]) / 6.0
    return s


def draw_series(axis, pairs, sp):
    st = STYLE[sp]
    for seg in segments(pairs):
        seg = sorted(seg, key=lambda p: p[0])
        d = np.array([p[0] for p in seg])
        v = np.array([p[1] for p in seg])
        s = smooth(v)
        axis.plot(s, d, color=st['band'], alpha=st['ba'], lw=8, solid_joinstyle='round',
                  solid_capstyle='round', zorder=2)
        axis.plot(s, d, color=st['line'], lw=0.8, zorder=3)
        axis.plot(v, d, ls='none', marker=st['marker'], ms=st['ms'], mfc=st['mfc'],
                  mec=st['mec'], mew=st['mew'], zorder=4)


def fmt(v, p):
    return f"{round(v, 3):g}"


fig = plt.figure(figsize=(W / 100, H / 100), dpi=100)

for key in ['a', 'b', 'c', 'd']:
    g = GEOM[key]
    l, r, t, b = g['px']
    ax = fig.add_axes([l / W, 1 - b / H, (r - l) / W, (b - t) / H])
    ax.set_xlim(4.5, 4.5 - (r - l) / SC18)
    ax.set_ylim(g['ylim'][1], g['ylim'][0])
    ax.axhspan(g['gray'][0], g['gray'][1], color='#d9d9d9', lw=0, zorder=0)
    for sp in ['top', 'right']:
        ax.spines[sp].set_visible(False)
    for sp in ['left', 'bottom']:
        ax.spines[sp].set_color(AXC)
        ax.spines[sp].set_linewidth(0.8)
    ax.spines['bottom'].set_bounds(-2.5, 4.5)
    ax.set_xticks(O18_TICKS)
    ax.set_xticklabels([str(x) for x in O18_TICKS])
    ax.xaxis.set_minor_locator(FixedLocator([3.5, 2.5, 1.5, 0.5, -0.5, -1.5, -2.5]))
    ax.tick_params(axis='x', which='major', length=5, width=0.8, color=AXC, pad=15, labelsize=11)
    ax.tick_params(axis='x', which='minor', length=3, width=0.8, color=AXC)
    y0, y1, st_ = g['ymaj']
    ax.yaxis.set_major_locator(FixedLocator(np.round(np.arange(y0, y1 + st_ / 2, st_), 3)))
    y0, y1, st_ = g['ymin']
    ax.yaxis.set_minor_locator(FixedLocator(np.round(np.arange(y0, y1 + st_ / 2, st_), 3)))
    ax.yaxis.set_major_formatter(FuncFormatter(fmt))
    ax.tick_params(axis='y', which='major', length=5, width=0.8, color=AXC, labelsize=11)
    ax.tick_params(axis='y', which='minor', length=3, width=0.8, color=AXC)

    tw = ax.twiny()
    c0 = g['c0']
    tw.set_xlim((l - c0) / SC13, (r - c0) / SC13)
    tw.patch.set_visible(False)
    for sp in ['left', 'right', 'bottom']:
        tw.spines[sp].set_visible(False)
    tw.spines['top'].set_bounds(-3.5, 2.5)
    tw.spines['top'].set_color(AXC)
    tw.spines['top'].set_linewidth(0.8)
    tw.set_xticks(C13_TICKS)
    tw.set_xticklabels([str(x) for x in C13_TICKS])
    tw.xaxis.set_minor_locator(FixedLocator([-3.5, -2.5, -1.5, -0.5, 0.5, 1.5, 2.5]))
    tw.tick_params(axis='x', which='major', length=5, width=0.8, color=AXC, pad=13, labelsize=11)
    tw.tick_params(axis='x', which='minor', length=3, width=0.8, color=AXC)

    o18, c13 = DATA[key]
    for sp in SPECIES:
        if sp in o18:
            draw_series(ax, o18[sp], sp)
    for sp in SPECIES:
        if sp in c13:
            draw_series(tw, c13[sp], sp)

    # texts
    fig.text(g['tpos'][0] / W, 1 - g['tpos'][1] / H, g['title'], fontsize=22,
             fontweight='bold', ha='left', va='center')
    fig.text(g['ylx'] / W, 1 - ((t + b) / 2) / H, g['ylabel'], rotation=90,
             ha='center', va='center', fontsize=14)
    fig.text((l + 3.5 * SC18) / W, 1 - (b + 54) / H, 'δ$^{18}$O (‰ VPDB)',
             ha='center', va='center', fontsize=13.5)
    fig.text((c0 - 0.5 * SC13) / W, 1 - g['c13y'] / H, 'δ$^{13}$C (‰ VPDB)',
             ha='center', va='center', fontsize=13)

handles = []
for sp in SPECIES:
    st = STYLE[sp]
    handles.append(Line2D([], [], ls='none', marker=st['marker'], ms=st['ms'] * 1.2,
                          mfc=st['mfc'], mec=st['mec'], mew=st['mew'] if sp != 'ruber' else 1.1))
leg = fig.legend(handles, LEGEND_LABELS, loc='center',
                 bbox_to_anchor=(95 / W, 1 - 1565 / H, 935 / W, 44 / H),
                 ncol=6, mode='expand', fancybox=False, edgecolor='#a0a0a0', framealpha=1,
                 prop=dict(style='italic', size=12.5), handletextpad=0.5, borderaxespad=0,
                 borderpad=0.7, handlelength=1.2)

fig.savefig('out.png', dpi=100)
